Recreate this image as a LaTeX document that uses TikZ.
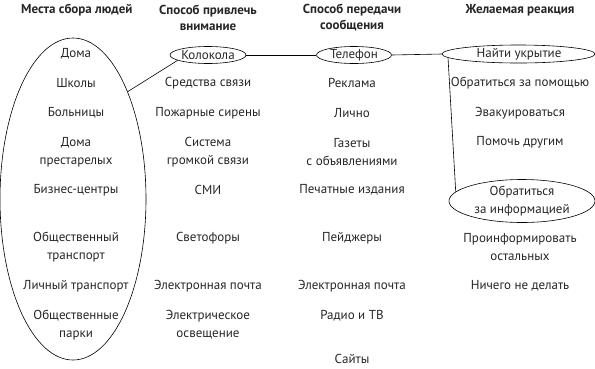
\documentclass[tikz,border=0pt]{standalone}
\usepackage{fontspec}
\setmainfont{PT Sans}
\usetikzlibrary{shapes.geometric}
\begin{document}
\begin{tikzpicture}[x=1pt,y=-1pt,
  txt/.style={font=\fontsize{13}{18}\selectfont, align=center, inner sep=0pt, text=black!85},
  hd/.style={font=\fontsize{13}{16}\selectfont\bfseries, align=center, inner sep=0pt, text=black!85},
  ov/.style={draw, ellipse, line width=0.6pt, inner sep=0pt},
  ln/.style={line width=0.6pt}]
\useasboundingbox (0,0) rectangle (595,368);
% headers
\node[hd, anchor=west] (h1) at (21,10) {Места сбора людей};
\node[hd] (h2) at (208,18) {Способ привлечь\\внимание};
\node[hd] (h3) at (352,18) {Способ передачи\\сообщения};
\node[hd] (h4) at (520,10) {Желаемая реакция};
% column 1
\node[ov, minimum width=146, minimum height=322] (big) at (73,199) {};
\node[txt] (a1) at (76,54) {Дома};
\node[txt] (a2) at (76,83) {Школы};
\node[txt] (a3) at (76,113) {Больницы};
\node[txt] (a4) at (76,152) {Дома\\престарелых};
\node[txt] (a5) at (76,190) {Бизнес-центры};
\node[txt] (a6) at (76,247) {Общественный\\транспорт};
\node[txt] (a7) at (76,286) {Личный транспорт};
\node[txt] (a8) at (76,325) {Общественные\\парки};
% column 2
\node[ov, minimum width=76, minimum height=17] (kol) at (208,55) {};
\node[txt] (b1) at (kol) {Колокола};
\node[txt] (b2) at (208,83) {Средства связи};
\node[txt] (b3) at (208,113) {Пожарные сирены};
\node[txt] (b4) at (208,152) {Система\\громкой связи};
\node[txt] (b5) at (208,190) {СМИ};
\node[txt] (b6) at (208,238) {Светофоры};
\node[txt] (b7) at (208,286) {Электронная почта};
\node[txt] (b8) at (208,325) {Электрическое\\освещение};
% column 3
\node[ov, minimum width=75, minimum height=17] (tel) at (354,55) {};
\node[txt] (c1) at (tel) {Телефон};
\node[txt] (c2) at (352,83) {Реклама};
\node[txt] (c3) at (352,113) {Лично};
\node[txt] (c4) at (352,152) {Газеты\\с объявлениями};
\node[txt] (c5) at (352,190) {Печатные издания};
\node[txt] (c6) at (352,238) {Пейджеры};
\node[txt] (c7) at (352,286) {Электронная почта};
\node[txt] (c8) at (352,316) {Радио и ТВ};
\node[txt] (c9) at (352,359) {Сайты};
% column 4
\node[ov, minimum width=153, minimum height=18] (ukr) at (518.5,54) {};
\node[txt] (d1) at (519,54) {Найти укрытие};
\node[txt] (d2) at (520,83) {Обратиться за помощью};
\node[txt] (d3) at (520,113) {Эвакуироваться};
\node[txt] (d4) at (520,142) {Помочь другим};
\node[ov, minimum width=146, minimum height=43] (inf) at (522,201) {};
\node[txt] (d5) at (inf) {Обратиться\\за информацией};
\node[txt] (d6) at (520,247) {Проинформировать\\остальных};
\node[txt] (d7) at (520,286) {Ничего не делать};
% connectors
\draw[ln] (big.63) -- (kol.190);
\draw[ln] (kol.east) -- (tel.west);
\draw[ln] (tel.east) -- (ukr.west);
\draw[ln] (ukr.183) -- (inf.172);
\end{tikzpicture}
\end{document}
